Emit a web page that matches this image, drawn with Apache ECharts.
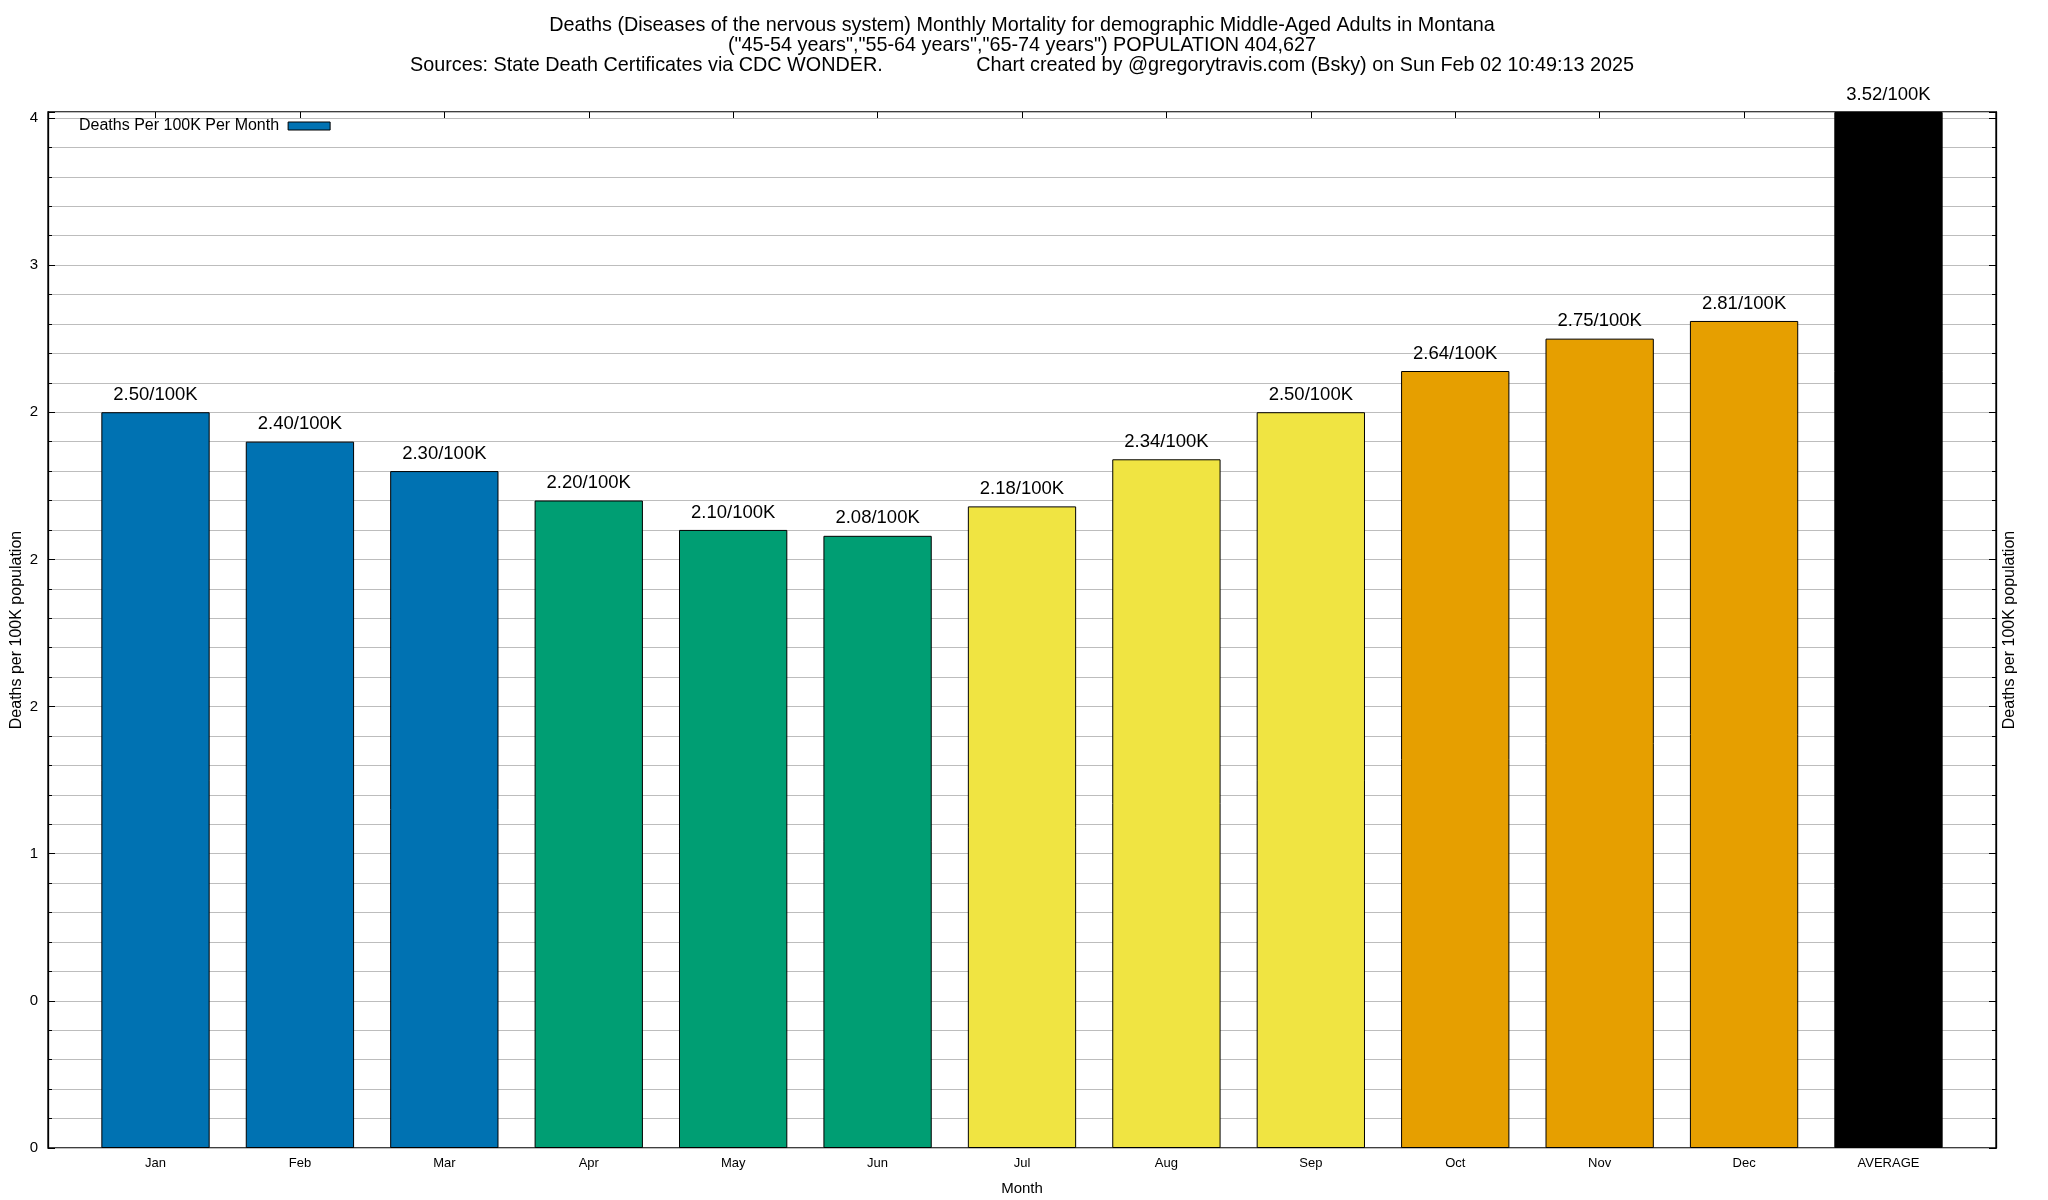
<!DOCTYPE html>
<html>
<head>
<meta charset="utf-8">
<script src="https://cdn.jsdelivr.net/npm/echarts@6/dist/echarts.min.js"></script>
<style>
html,body{margin:0;padding:0;background:#fff;}
#chart{width:2048px;height:1200px;}
</style>
</head>
<body>
<div id="chart"></div>
<script>
// ---- data ----
const categories = ['Jan','Feb','Mar','Apr','May','Jun','Jul','Aug','Sep','Oct','Nov','Dec','AVERAGE'];
const deathsPer100K = [2.50, 2.40, 2.30, 2.20, 2.10, 2.08, 2.18, 2.34, 2.50, 2.64, 2.75, 2.81, 3.52];
const yTickLabels = ['0','0','1','2','2','2','3','4'];
const yMin = 0;
const yMax = 3.52;
const titleLines = [
  'Deaths (Diseases of the nervous system) Monthly Mortality for demographic Middle-Aged Adults in Montana',
  '("45-54 years","55-64 years","65-74 years") POPULATION 404,627',
  'Sources: State Death Certificates via CDC WONDER.                 Chart created by @gregorytravis.com (Bsky) on Sun Feb 02 10:49:13 2025'
];
const seriesName = 'Deaths Per 100K Per Month';
const yAxisTitle = 'Deaths per 100K population';
const xAxisTitle = 'Month';

// ---- styles ----
const FONT = '"Liberation Sans", Arial, Helvetica, sans-serif';
const seasonColors = ['#0072B2', '#009E73', '#F0E442', '#E69F00'];
const averageColor = '#000000';
const gridColor = '#bdbdbd';

function barColor(i) {
  return categories[i] === 'AVERAGE' ? averageColor : seasonColors[Math.floor(i / 3)];
}

const barData = deathsPer100K.map((v, i) => ({
  value: v,
  itemStyle: { color: barColor(i) }
}));

function yLabel(v) {
  const k = v / 0.5;
  if (Math.abs(k - Math.round(k)) > 1e-6) return '';
  const idx = Math.round(k);
  return yTickLabels[idx] !== undefined ? yTickLabels[idx] : '';
}

const gridA = { left: 83.3, right: 87.3, top: 112, bottom: 52, outerBoundsMode: 'none', containLabel: false };
const gridB = { left: 48, right: 52, top: 112, bottom: 52, outerBoundsMode: 'none', containLabel: false,
  show: true, borderColor: '#000', borderWidth: 1.3, backgroundColor: 'transparent' };

const blackLine = { show: true, onZero: false, lineStyle: { color: '#000', width: 1.3 } };
const noLine = { show: false, onZero: false };

const chart = echarts.init(document.getElementById('chart'), null, { renderer: 'canvas' });
chart.setOption({
  animation: false,
  backgroundColor: '#ffffff',
  textStyle: { fontFamily: FONT },
  title: {
    text: titleLines.join('\n'),
    left: 1022,
    textAlign: 'center',
    top: 16,
    padding: 0,
    textStyle: { fontFamily: FONT, fontSize: 19.8, fontWeight: 'normal', color: '#000', lineHeight: 20 }
  },
  legend: {
    show: true,
    data: [seriesName],
    left: 79,
    top: 118,
    align: 'right',
    icon: 'rect',
    itemWidth: 42,
    itemHeight: 8,
    padding: 0,
    textStyle: { fontFamily: FONT, fontSize: 16, color: '#000', padding: [0, 4, 0, 0] },
    itemStyle: { color: '#0072B2', borderColor: '#000', borderWidth: 1 }
  },
  grid: [gridA, gridB],
  xAxis: [
    {
      gridIndex: 0, type: 'category', position: 'bottom', data: categories,
      boundaryGap: true,
      axisLine: noLine,
      axisTick: { show: true, inside: true, alignWithLabel: true, length: 6, lineStyle: { color: '#000' } },
      axisLabel: { fontFamily: FONT, fontSize: 13, color: '#000', margin: 9, interval: 0 },
      splitLine: { show: false },
      name: xAxisTitle, nameLocation: 'middle', nameGap: 33,
      nameTextStyle: { fontFamily: FONT, fontSize: 15, color: '#000' }
    },
    {
      gridIndex: 0, type: 'category', position: 'top', data: categories,
      boundaryGap: true,
      axisLine: noLine,
      axisTick: { show: true, inside: true, alignWithLabel: true, length: 6, lineStyle: { color: '#000' } },
      axisLabel: { show: false },
      splitLine: { show: false }
    },
    {
      gridIndex: 1, type: 'value', min: 0, max: 1, show: false
    }
  ],
  yAxis: [
    {
      gridIndex: 0, type: 'value', min: yMin, max: yMax, show: false,
      splitLine: { show: false }
    },
    {
      gridIndex: 1, type: 'value', position: 'left', min: yMin, max: yMax, interval: 0.1,
      axisLine: blackLine,
      axisTick: { show: true, inside: true, length: 4, lineStyle: { color: '#000' } },
      axisLabel: { fontFamily: FONT, fontSize: 15, color: '#000', margin: 10, formatter: yLabel,
        showMinLabel: true, showMaxLabel: true, hideOverlap: false },
      splitLine: { show: true, lineStyle: { color: gridColor, width: 1 } },
      name: yAxisTitle, nameLocation: 'middle', nameGap: 23, nameRotate: 90, nameMoveOverlap: false,
      nameTextStyle: { fontFamily: FONT, fontSize: 16, color: '#000' }
    },
    {
      gridIndex: 1, type: 'value', position: 'right', min: yMin, max: yMax, interval: 0.1,
      axisLine: blackLine,
      axisTick: { show: true, inside: true, length: 4, lineStyle: { color: '#000' } },
      axisLabel: { show: false },
      splitLine: { show: false },
      name: yAxisTitle, nameLocation: 'middle', nameGap: 6, nameRotate: 90, nameMoveOverlap: false,
      nameTextStyle: { fontFamily: FONT, fontSize: 16, color: '#000' }
    },
    {
      gridIndex: 1, type: 'value', position: 'left', min: yMin, max: yMax, interval: 0.5,
      axisLine: noLine,
      axisTick: { show: true, inside: true, length: 7, lineStyle: { color: '#000' } },
      axisLabel: { show: false },
      splitLine: { show: false }
    },
    {
      gridIndex: 1, type: 'value', position: 'right', min: yMin, max: yMax, interval: 0.5,
      axisLine: noLine,
      axisTick: { show: true, inside: true, length: 7, lineStyle: { color: '#000' } },
      axisLabel: { show: false },
      splitLine: { show: false }
    }
  ],
  series: [
    {
      name: seriesName,
      type: 'bar',
      xAxisIndex: 0,
      yAxisIndex: 0,
      data: barData,
      barWidth: '75%',
      itemStyle: { color: '#0072B2', borderColor: '#000', borderWidth: 1 },
      label: {
        show: true,
        position: 'top',
        distance: 8,
        fontFamily: FONT,
        fontSize: 18.5,
        color: '#000',
        formatter: p => p.value.toFixed(2) + '/100K'
      },
      z: 3
    }
  ]
});
</script>
</body>
</html>
